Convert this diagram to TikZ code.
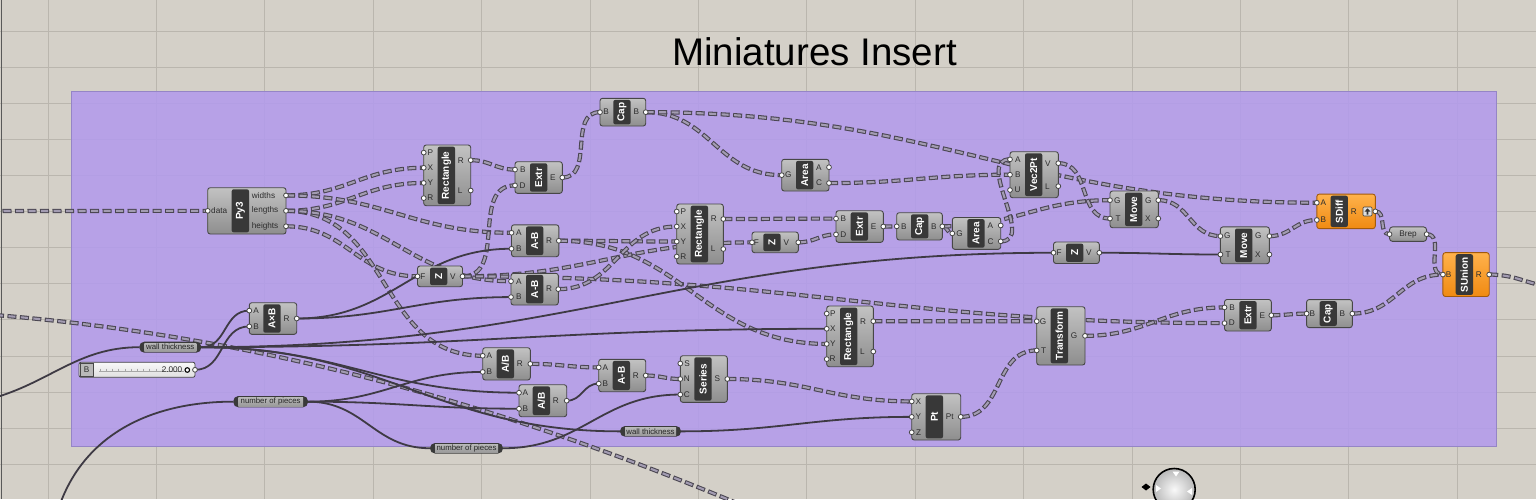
\documentclass[tikz,border=0pt]{standalone}
\usepackage{fontspec}
\setmainfont{Liberation Sans}
\definecolor{canvas}{HTML}{D4D0C8}
\definecolor{gridc}{HTML}{BAB6AE}
\definecolor{purp}{HTML}{B39BEC}
\definecolor{purpb}{HTML}{9585C6}
\definecolor{gtop}{HTML}{C2C2C2}
\definecolor{gbot}{HTML}{8E8E8E}
\definecolor{gborder}{HTML}{474747}
\definecolor{glab}{HTML}{383838}
\definecolor{otop}{HTML}{FFB24C}
\definecolor{obot}{HTML}{F08A12}
\definecolor{oborder}{HTML}{A35A0C}
\definecolor{ptxt}{HTML}{2C2C2C}
\definecolor{swc}{HTML}{3E3A44}
\definecolor{dwdark}{HTML}{4A4651}
\definecolor{dwlight}{HTML}{A39CB2}
\definecolor{pdark}{HTML}{3A3A3A}
\definecolor{ptop}{HTML}{B8B8B8}
\definecolor{pbot}{HTML}{9A9A9A}
\pgfdeclarelayer{bg}
\pgfdeclarelayer{wires}
\pgfsetlayers{bg,wires,main}
\newcommand\titlef{\fontsize{38.5}{40}\selectfont}
\newcommand\lblf{\bfseries\fontsize{10}{10}\selectfont}
\newcommand\ptf{\fontsize{8.2}{8.2}\selectfont}
\newcommand\parf{\fontsize{7.8}{8}\selectfont}
\tikzset{
  gbodyg/.style={draw=gborder, line width=0.9pt, rounded corners=2.5pt, top color=gtop, bottom color=gbot},
  gbodyo/.style={draw=oborder, line width=0.9pt, rounded corners=2.5pt, top color=otop, bottom color=obot},
  gbody/.style={gbodyg},
  glabel/.style={fill=glab, rounded corners=2pt},
  gltext/.style={text=white, font=\lblf, inner sep=0pt},
  gptext/.style={text=ptxt, font=\ptf, inner sep=0pt},
  gport/.style={draw=gborder, fill=white, line width=0.8pt},
  ptext/.style={text=black!85, font=\parf, inner sep=0pt},
  swire/.style={draw=swc, line width=1.8pt},
  dwire/.style={draw=dwlight, line width=2.1pt, dash pattern=on 7pt off 5.5pt, dash phase=11.5pt,
     preaction={draw=dwdark, line width=4.2pt, dash pattern=on 9pt off 3.5pt, dash phase=0pt}},
}
% component: name, x1, y1, x2, y2, label-box left, label, inputs, outputs
\newcommand\gcomp[9]{%
  \path[gbody] (#2,#3) rectangle (#4,#5);
  \path[glabel] (#6,#3+1.6) rectangle (#6+17.3,#5-1.6);
  \node[gltext,rotate=90] at (#6+8.65,{(#3+#5)/2}) {#7};
  \gdef\gcnt{0}%
  \foreach \gplab in {#8}{\xdef\gcnt{\the\numexpr\gcnt+1\relax}}%
  \foreach \gplab [count=\gi] in {#8}{%
    \pgfmathsetmacro\gyy{#3+(#5-#3)*(\gi-0.5)/\gcnt}%
    \coordinate (#1-in-\gi) at (#2,\gyy);
    \node[gptext,anchor=east] at (#6-4.3,\gyy) {\gplab};
    \path[gport] (#2,\gyy) circle (2.4pt);
  }%
  \gdef\gcnt{0}%
  \foreach \gplab in {#9}{\xdef\gcnt{\the\numexpr\gcnt+1\relax}}%
  \foreach \gplab [count=\gi] in {#9}{%
    \pgfmathsetmacro\gyy{#3+(#5-#3)*(\gi-0.5)/\gcnt}%
    \coordinate (#1-out-\gi) at (#4,\gyy);
    \node[gptext,anchor=west] at (#6+20,\gyy) {\gplab};
    \path[gport] (#4,\gyy) circle (2.4pt);
  }%
}
% parameter capsule: name, x1, y1, x2, y2, text
\newcommand\gparam[6]{%
  \path[fill=pdark, rounded corners=5pt] (#2,#3) rectangle (#4,#5);
  \path[top color=ptop, bottom color=pbot] (#2+5,#3+1.3) rectangle (#4-5,#5-1.3);
  \node[ptext] at ({(#2+#4)/2},{(#3+#5)/2}) {#6};
  \coordinate (#1-in) at (#2,{(#3+#5)/2});
  \coordinate (#1-out) at (#4,{(#3+#5)/2});
}
\newcommand\dw[3][1.1]{\path[dwire] (#2) to[out=0,in=180,looseness=#1] (#3);}
\newcommand\sw[3][1.1]{\path[swire] (#2) to[out=0,in=180,looseness=#1] (#3);}
\begin{document}
\begin{tikzpicture}[x=1pt,y=-1pt]
\useasboundingbox (0,0) rectangle (1536,499);
\clip (0,0) rectangle (1536,499);
\begin{pgfonlayer}{bg}
  \fill[canvas] (0,0) rectangle (1536,499);
  \foreach \k in {0,...,13} {\draw[gridc, line width=0.8pt] ({48+108.4*\k},0) -- ({48+108.4*\k},499);}
  \foreach \k in {0,...,13} {\draw[gridc, line width=0.8pt] (0,{31+36.1*\k}) -- (1536,{31+36.1*\k});}
  \draw[gray!70!black, line width=0.8pt] (1,0) -- (1,499);
  \fill[purp, opacity=0.88] (71.7,91.3) rectangle (1496,446);
  \draw[purpb, line width=0.9pt] (71.7,91.3) rectangle (1496,446);
\end{pgfonlayer}

\node[font=\titlef, anchor=base, inner sep=0pt] (title) at (814.5,65) {Miniatures Insert};

% components
\gcomp{py}{207.7}{187.7}{286}{234}{231.7}{Py3}{data}{widths,lengths,heights}
\gcomp{rectT}{423.7}{145}{470.7}{205.7}{437.7}{Rectangle}{P,X,Y,R}{R,L}
\gcomp{extrT}{515}{161.7}{562.3}{193.3}{530}{Extr}{B,D}{E}
\gcomp{capT}{600}{98.3}{645.7}{126}{613.3}{Cap}{B}{B}
\gcomp{areaT}{781.7}{159.3}{829}{191}{796}{Area}{G}{A,C}
\gcomp{abU}{511.5}{224.8}{558.8}{256.7}{526}{A-B}{A,B}{R}
\gcomp{zL}{417.5}{266}{462.5}{286.7}{430}{Z}{F}{V}
\gcomp{abL}{511}{273.3}{558.3}{305}{526}{A-B}{A,B}{R}
\gcomp{rectM}{676.7}{204}{723.3}{264}{690.7}{Rectangle}{P,X,Y,R}{R,L}
\gcomp{zM}{752}{232}{798.3}{252.7}{763.3}{Z}{F}{V}
\gcomp{extrM}{836}{210.7}{883.3}{242.3}{850.7}{Extr}{B,D}{E}
\gcomp{capM}{896.7}{212.7}{942.3}{240}{911}{Cap}{B}{B}
\gcomp{areaM}{952.3}{217.5}{1000.7}{249.3}{967.3}{Area}{G}{A,C}
\gcomp{vec}{1010}{151.7}{1058.3}{197.7}{1025}{Vec2Pt}{A,B,U}{V,L}
\gcomp{moveU}{1110}{191}{1158.3}{227.7}{1125}{Move}{G,T}{G,X}
\gcomp{zR}{1053.5}{242}{1099.3}{263.5}{1066}{Z}{F}{V}
\gcomp{moveL}{1220.4}{226.9}{1269.4}{263.7}{1235}{Move}{G,T}{G,X}
\gcomp{extrBR}{1224.5}{299.5}{1271.3}{331}{1239.3}{Extr}{B,D}{E}
\gcomp{capBR}{1306.6}{299.6}{1352.3}{327.6}{1319.5}{Cap}{B}{B}
\gcomp{tf}{1036.7}{306.7}{1085}{365}{1050.7}{Transform}{G,T}{G}
\gcomp{rectB}{826.7}{306}{873.3}{366.7}{840}{Rectangle}{P,X,Y,R}{R,L}
\gcomp{pt}{911.7}{393.7}{960.7}{440}{925.7}{Pt}{X,Y,Z}{Pt}
\gcomp{adbU}{482.7}{347.7}{530.3}{380}{496.7}{A/B}{A,B}{R}
\gcomp{adbL}{519}{384.7}{566.7}{416.7}{532.7}{A/B}{A,B}{R}
\gcomp{abB}{598.7}{359.3}{645.7}{391.7}{612.7}{A-B}{A,B}{R}
\gcomp{series}{680.3}{355.7}{727.3}{402.3}{694.3}{Series}{S,N,C}{S}
\gcomp{axb}{249.3}{302.7}{296.7}{334.3}{263.3}{A×B}{A,B}{R}
\tikzset{gbody/.style={gbodyo}}
\gcomp{sdiff}{1316.8}{194.1}{1375.3}{228.6}{1330.6}{SDiff}{A,B}{R}
\gcomp{sunion}{1442.9}{252.6}{1489.2}{296.5}{1455.7}{SUnion}{B}{R}
\tikzset{gbody/.style={gbodyg}}
% SDiff icon
\path[fill=gray!25, draw=gray!50!black, line width=0.6pt, rounded corners=1pt] (1363,207) rectangle (1372,216);
\fill[gray!40!black] (1367.5,208.3) -- (1370.5,211.6) -- (1368.4,211.6) -- (1368.4,214.6) -- (1366.6,214.6) -- (1366.6,211.6) -- (1364.5,211.6) -- cycle;

% Brep parameter
\path[gbodyg, rounded corners=3pt] (1389.5,226.9) rectangle (1426.6,241.4);
\node[gptext] (breptext) at (1408,234.2) {Brep};
\coordinate (brep-in) at (1389.5,234.2);
\coordinate (brep-out) at (1426.6,234.2);
\path[gport] (brep-in) circle (2.4pt);
\path[gport] (brep-out) circle (2.4pt);

% parameter capsules
\gparam{wtL}{139.3}{341.7}{201.3}{352.7}{wall thickness}
\gparam{npL}{233.3}{396}{308}{407.3}{number of pieces}
\gparam{wtB}{620}{426}{681}{436.7}{wall thickness}
\gparam{npB}{430}{443}{503}{453.5}{number of pieces}

% slider
\path[draw=gborder, line width=0.8pt, rounded corners=2pt, top color=white!95!gray, bottom color=gray!25] (79,362.3) rectangle (195,377.3);
\path[fill=gray!55, draw=gborder, line width=0.6pt] (80,363.2) rectangle (93.3,376.4);
\node[gptext] (sliderB) at (86.5,369.8) {B};
\draw[gray!70, line width=0.5pt] (99,371) -- (184,371);
\foreach \k in {0,...,10} {\draw[gray!70, line width=0.5pt] ({100+6.2*\k},368.5) -- ({100+6.2*\k},371);}
\node[gptext, anchor=east] (sliderval) at (182.5,369.8) {2.000};
\path[draw=black, line width=1.1pt, fill=white] (187.3,370) circle (2.3pt);
\coordinate (slider-out) at (195,369.8);
\path[gport] (slider-out) circle (2.4pt);

% free ends
\coordinate (inL) at (-10,211);
\coordinate (inL2) at (-10,399);
\coordinate (inB) at (58,510);
\coordinate (outR) at (1560,287);
\coordinate (dl1) at (-5,315);
\coordinate (dl2) at (800,530);

% navigation widget
\shade[inner color=white!95!gray, outer color=gray!55] (1174.2,489.5) circle (21pt);
\draw[black, line width=1.6pt] (1174.2,489.5) circle (21pt);
\fill[white] (1172.5,471.5) -- (1179.5,471.5) -- (1176,476.5) -- cycle;
\fill[white] (1156,485) -- (1156,492) -- (1161,488.5) -- cycle;
\fill[white] (1192,488) -- (1192,495) -- (1187,491.5) -- cycle;
\fill[black] (1141.5,487) -- (1146,483.5) -- (1150.5,487) -- (1146,490.5) -- cycle;

\begin{pgfonlayer}{wires}
  % list (dashed) wires
  \dw{inL}{py-in-1}
  \dw{py-out-1}{rectT-in-2}
  \dw{py-out-2}{rectT-in-3}
  \dw{py-out-1}{abU-in-1}
  \dw{py-out-3}{zL-in-1}
  \dw{py-out-2}{adbU-in-1}
  \dw{py-out-2}{abL-in-1}
  \dw{zL-out-1}{extrT-in-2}
  \dw{zL-out-1}{zM-in-1}
  \dw{zL-out-1}{extrBR-in-2}
  \dw{rectT-out-1}{extrT-in-1}
  \dw{extrT-out-1}{capT-in-1}
  \dw{capT-out-1}{areaT-in-1}
  \dw{capT-out-1}{sdiff-in-1}
  \dw{areaT-out-2}{vec-in-2}
  \dw{abU-out-1}{rectM-in-3}
  \dw{abU-out-1}{rectB-in-3}
  \dw{abL-out-1}{rectM-in-2}
  \dw{rectM-out-1}{extrM-in-1}
  \dw{zM-out-1}{extrM-in-2}
  \dw{extrM-out-1}{capM-in-1}
  \dw{capM-out-1}{areaM-in-1}
  \dw{capM-out-1}{moveU-in-1}
  \dw{areaM-out-2}{vec-in-1}
  \dw{vec-out-1}{moveU-in-2}
  \dw{moveU-out-1}{moveL-in-1}
  \dw{moveL-out-1}{sdiff-in-2}
  \dw{sdiff-out-1}{brep-in}
  \dw{brep-out}{sunion-in-1}
  \dw{capBR-out-1}{sunion-in-1}
  \dw{sunion-out-1}{outR}
  \dw{rectB-out-1}{tf-in-1}
  \dw{tf-out-1}{extrBR-in-1}
  \dw{extrBR-out-1}{capBR-in-1}
  \dw{pt-out-1}{tf-in-2}
  \dw{adbU-out-1}{abB-in-1}
  \dw{abB-out-1}{series-in-2}
  \dw{series-out-1}{pt-in-1}
  \path[dwire] (dl1) .. controls (300,340) and (560,425) .. (dl2);
  % item (solid) wires
  \path[swire] (inL2) to[out=15,in=180] (wtL-in);
  \path[swire] (inB) to[out=72,in=180] (npL-in);
  \sw{wtL-out}{axb-in-1}
  \sw{slider-out}{axb-in-2}
  \sw{axb-out-1}{abU-in-2}
  \sw{axb-out-1}{abL-in-2}
  \sw{wtL-out}{zR-in-1}
  \sw{wtL-out}{rectB-in-2}
  \sw{wtL-out}{adbL-in-1}
  \sw{wtL-out}{wtB-in}
  \sw{npL-out}{adbU-in-2}
  \sw{npL-out}{adbL-in-2}
  \sw{npL-out}{npB-in}
  \sw{npB-out}{series-in-3}
  \sw{adbL-out-1}{abB-in-2}
  \sw{wtB-out}{pt-in-2}
  \sw{zR-out-1}{moveL-in-2}
\end{pgfonlayer}
\end{tikzpicture}
\end{document}
